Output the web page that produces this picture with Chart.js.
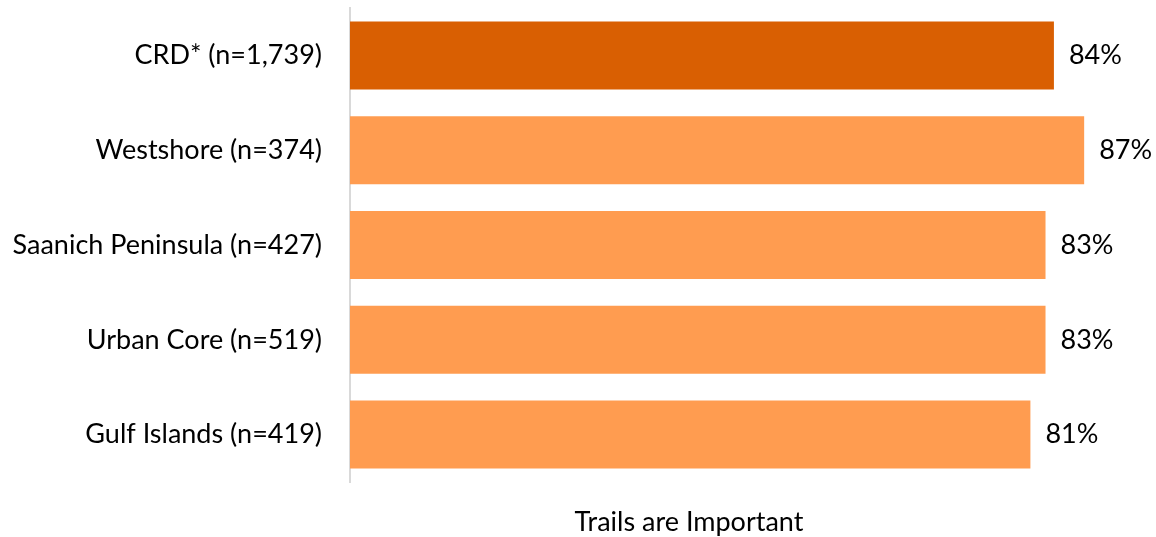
<!DOCTYPE html>
<html>
<head>
<meta charset="utf-8">
<script src="https://cdn.jsdelivr.net/npm/chart.js@4"></script>
<style>
  html, body { margin: 0; padding: 0; background: #fff; }
</style>
</head>
<body>
<canvas id="chart" width="1156" height="537"></canvas>
<script>
// values
var categories = ['CRD* (n=1,739)', 'Westshore (n=374)', 'Saanich Peninsula (n=427)', 'Urban Core (n=519)', 'Gulf Islands (n=419)'];
var trailsImportant = [83.8, 87.4, 82.8, 82.8, 81.0];
var barColors = ['#D95F02', '#FF9C50', '#FF9C50', '#FF9C50', '#FF9C50'];
var axisTitle = 'Trails are Important';

var FONT = { family: 'Lato', size: 27 };

// percent labels at the end of each bar
var valueLabels = {
    id: 'valueLabels',
    afterDatasetsDraw: function(chart)
    {
        var ctx = chart.ctx;
        var meta = chart.getDatasetMeta(0);
        ctx.save();
        ctx.font = FONT.size + 'px ' + FONT.family;
        ctx.fillStyle = '#000';
        ctx.textAlign = 'left';
        ctx.textBaseline = 'middle';
        meta.data.forEach(function(bar, i) {
            ctx.fillText(Math.round(trailsImportant[i]) + '%', bar.x + 15, bar.y);
        });
        ctx.restore();
    }
};

// axis title sits under the plot, not centred on it
var bottomTitle = {
    id: 'bottomTitle',
    afterDraw: function(chart)
    {
        var ctx = chart.ctx;
        var area = chart.chartArea;
        ctx.save();
        ctx.font = FONT.size + 'px ' + FONT.family;
        ctx.fillStyle = '#000';
        ctx.textAlign = 'center';
        ctx.textBaseline = 'middle';
        ctx.fillText(axisTitle, area.left + 339, area.bottom + 40);
        ctx.restore();
    }
};

new Chart(document.getElementById('chart').getContext('2d'), {
    type: 'bar',
    data: {
        labels: categories,
        datasets: [{
            data: trailsImportant,
            backgroundColor: barColors,
            barPercentage: 0.717,
            categoryPercentage: 1
        }]
    },
    options: {
        indexAxis: 'y',
        responsive: false,
        animation: false,
        layout: { padding: { top: 8, bottom: 55, left: 0, right: 8 } },
        plugins: {
            legend: { display: false },
            tooltip: { enabled: false }
        },
        scales: {
            x: { display: false, min: 0, max: 95 },
            y: {
                afterFit: function(scale) {
                    scale.width = 350;
                    scale.paddingTop = 0;
                    scale.paddingBottom = 0;
                },
                grid: { display: false, drawTicks: false },
                border: { display: true, color: '#d9d9d9', width: 2 },
                ticks: { color: '#000', font: FONT, padding: 28 }
            }
        }
    },
    plugins: [valueLabels, bottomTitle]
});
</script>
</body>
</html>
